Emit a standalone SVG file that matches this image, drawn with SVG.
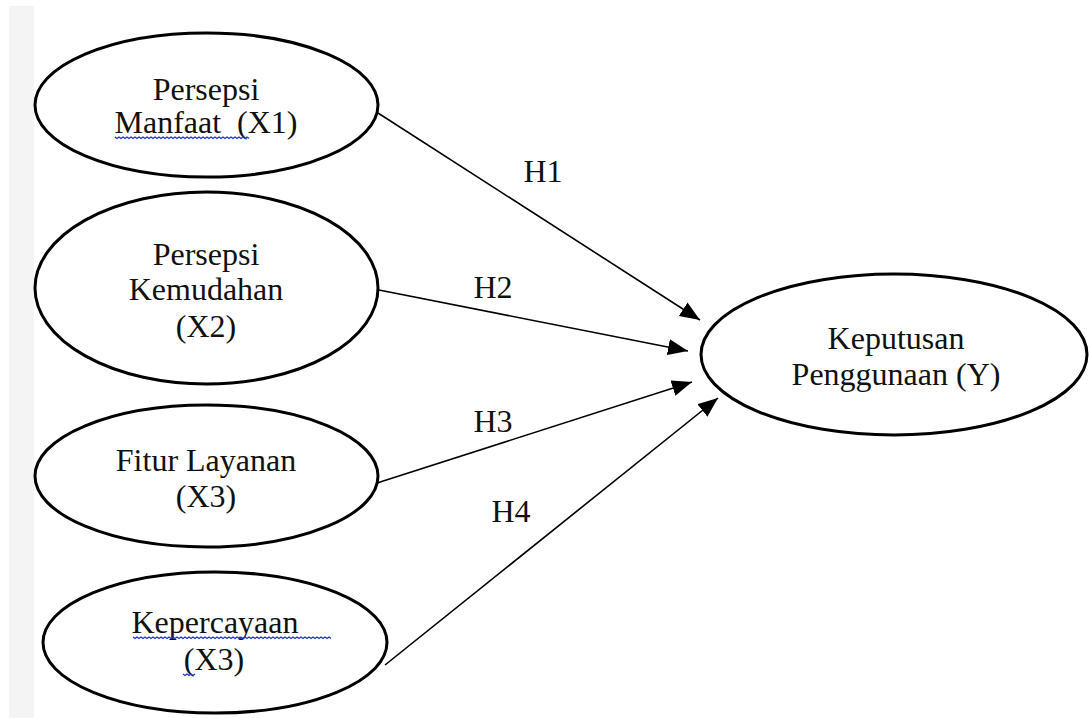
<svg xmlns="http://www.w3.org/2000/svg" width="1089" height="718" viewBox="0 0 1089 718">
<style>
.node ellipse{fill:#fff;stroke:#000;stroke-width:3}
.node text,.lbl{font-family:"Liberation Serif","Times New Roman",serif;font-size:32px;fill:#111;text-anchor:middle}
.edge{stroke:#000;stroke-width:1.6;fill:none;marker-end:url(#arr)}
.squig{stroke:#2233cc;stroke-width:1.3;fill:none}
</style>
<defs>
<marker id="arr" markerUnits="userSpaceOnUse" markerWidth="22" markerHeight="18" refX="20" refY="8" orient="auto">
<path d="M0,0 L20,8 L0,16 z" fill="#000"/>
</marker>
</defs>
<rect x="9" y="6" width="25" height="712" fill="#f4f4f4"/>
<g id="connectors">
<line class="edge" x1="378" y1="113" x2="700" y2="320"/>
<line class="edge" x1="379" y1="290" x2="688" y2="351"/>
<line class="edge" x1="377" y1="483" x2="692" y2="382"/>
<line class="edge" x1="385" y1="665" x2="718" y2="398"/>
<text class="lbl" x="543" y="182">H1</text>
<text class="lbl" x="493" y="298">H2</text>
<text class="lbl" x="493" y="432">H3</text>
<text class="lbl" x="511" y="522">H4</text>
</g>
<g id="x1" class="node">
<ellipse cx="206.5" cy="105" rx="171.5" ry="72"/>
<text x="206" y="100">Persepsi</text>
<text x="206" y="133" xml:space="preserve">Manfaat  (X1)</text>
<path class="squig" d="M115,137 l2,1.5 l2,-1.5 l2,1.5 l2,-1.5 l2,1.5 l2,-1.5 l2,1.5 l2,-1.5 l2,1.5 l2,-1.5 l2,1.5 l2,-1.5 l2,1.5 l2,-1.5 l2,1.5 l2,-1.5 l2,1.5 l2,-1.5 l2,1.5 l2,-1.5 l2,1.5 l2,-1.5 l2,1.5 l2,-1.5 l2,1.5 l2,-1.5 l2,1.5 l2,-1.5 l2,1.5 l2,-1.5 l2,1.5 l2,-1.5 l2,1.5 l2,-1.5 l2,1.5 l2,-1.5 l2,1.5 l2,-1.5 l2,1.5 l2,-1.5 l2,1.5 l2,-1.5 l2,1.5 l2,-1.5 l2,1.5 l2,-1.5 l2,1.5 l2,-1.5 l2,1.5 l2,-1.5 l2,1.5 l2,-1.5 l2,1.5 l2,-1.5 l2,1.5 l2,-1.5 l2,1.5 l2,-1.5 l2,1.5 l2,-1.5 l2,1.5 l2,-1.5 l2,1.5 l2,-1.5 l2,1.5 l2,-1.5 l2,1.5"/>
</g>
<g id="x2" class="node">
<ellipse cx="206.5" cy="288" rx="171.5" ry="96"/>
<text x="206" y="265">Persepsi</text>
<text x="206" y="300">Kemudahan</text>
<text x="206" y="337">(X2)</text>
</g>
<g id="x3" class="node">
<ellipse cx="206.5" cy="476" rx="171.5" ry="71"/>
<text x="206" y="471">Fitur Layanan</text>
<text x="206" y="507">(X3)</text>
</g>
<g id="x4" class="node">
<ellipse cx="215" cy="642.5" rx="172" ry="70.5"/>
<text x="215" y="633">Kepercayaan</text>
<text x="214" y="670">(X3)</text>
<path class="squig" d="M133,637 l2,1.5 l2,-1.5 l2,1.5 l2,-1.5 l2,1.5 l2,-1.5 l2,1.5 l2,-1.5 l2,1.5 l2,-1.5 l2,1.5 l2,-1.5 l2,1.5 l2,-1.5 l2,1.5 l2,-1.5 l2,1.5 l2,-1.5 l2,1.5 l2,-1.5 l2,1.5 l2,-1.5 l2,1.5 l2,-1.5 l2,1.5 l2,-1.5 l2,1.5 l2,-1.5 l2,1.5 l2,-1.5 l2,1.5 l2,-1.5 l2,1.5 l2,-1.5 l2,1.5 l2,-1.5 l2,1.5 l2,-1.5 l2,1.5 l2,-1.5 l2,1.5 l2,-1.5 l2,1.5 l2,-1.5 l2,1.5 l2,-1.5 l2,1.5 l2,-1.5 l2,1.5 l2,-1.5 l2,1.5 l2,-1.5 l2,1.5 l2,-1.5 l2,1.5 l2,-1.5 l2,1.5 l2,-1.5 l2,1.5 l2,-1.5 l2,1.5 l2,-1.5 l2,1.5 l2,-1.5 l2,1.5 l2,-1.5 l2,1.5 l2,-1.5 l2,1.5 l2,-1.5 l2,1.5 l2,-1.5 l2,1.5 l2,-1.5 l2,1.5 l2,-1.5 l2,1.5 l2,-1.5 l2,1.5 l2,-1.5 l2,1.5 l2,-1.5 l2,1.5 l2,-1.5 l2,1.5 l2,-1.5 l2,1.5 l2,-1.5 l2,1.5 l2,-1.5 l2,1.5 l2,-1.5 l2,1.5 l2,-1.5 l2,1.5 l2,-1.5 l2,1.5 l2,-1.5 l2,1.5"/>
<path class="squig" d="M183,674 l2,1.5 l2,-1.5 l2,1.5 l2,-1.5 l2,1.5 l2,-1.5"/>
</g>
<g id="y" class="node">
<ellipse cx="894" cy="354.5" rx="193" ry="80.5"/>
<text x="896" y="349">Keputusan</text>
<text x="896" y="385">Penggunaan (Y)</text>
</g>
</svg>
